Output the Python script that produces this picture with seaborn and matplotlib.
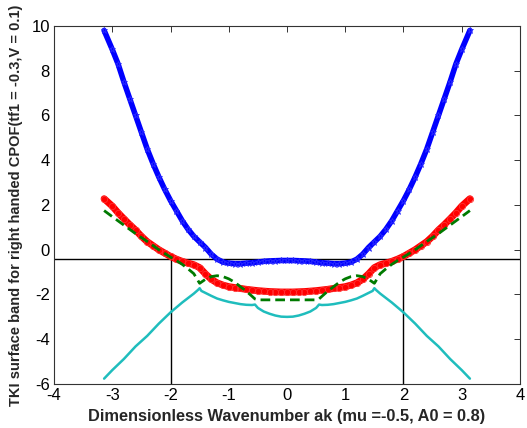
import numpy as np
import pandas as pd
import seaborn as sns
import matplotlib
matplotlib.use("Agg")
import matplotlib.pyplot as plt

# Wavenumber grid shared by the two marked bands
k_grid = [-3.14, -3.0, -2.9, -2.8, -2.7, -2.6, -2.5, -2.4, -2.3, -2.2, -2.1,
          -2.0, -1.9, -1.8, -1.7, -1.6, -1.5, -1.4, -1.3, -1.2, -1.1,
          -1.0, -0.9, -0.8, -0.7, -0.6, -0.5, -0.4, -0.3, -0.2, -0.1,
          0.0, 0.1, 0.2, 0.3, 0.4, 0.5, 0.6, 0.7, 0.8, 0.9,
          1.0, 1.1, 1.2, 1.3, 1.4, 1.5, 1.6, 1.7, 1.8, 1.9,
          2.0, 2.1, 2.2, 2.3, 2.4, 2.5, 2.6, 2.7, 2.8, 2.9, 3.0, 3.14]

upper_band = [9.8, 8.95, 8.3, 7.5, 6.75, 6.0, 5.25, 4.5, 3.85, 3.25, 2.7,
              2.2, 1.75, 1.3, 0.92, 0.6, 0.35, 0.1, -0.2, -0.42, -0.55,
              -0.6, -0.62, -0.62, -0.6, -0.58, -0.55, -0.52, -0.5, -0.49, -0.48,
              -0.48, -0.48, -0.49, -0.5, -0.52, -0.55, -0.58, -0.6, -0.62, -0.62,
              -0.6, -0.55, -0.42, -0.2, 0.1, 0.35, 0.6, 0.92, 1.3, 1.75,
              2.2, 2.7, 3.25, 3.85, 4.5, 5.25, 6.0, 6.75, 7.5, 8.3, 8.95, 9.8]

surface_band = [2.28, 1.95, 1.65, 1.38, 1.12, 0.88, 0.6, 0.36, 0.18, 0.0, -0.15,
                -0.3, -0.42, -0.52, -0.6, -0.67, -0.8, -1.08, -1.32, -1.48, -1.58,
                -1.65, -1.69, -1.73, -1.77, -1.8, -1.83, -1.85, -1.87, -1.88, -1.89,
                -1.89, -1.89, -1.88, -1.87, -1.85, -1.83, -1.8, -1.77, -1.73, -1.69,
                -1.65, -1.58, -1.48, -1.32, -1.08, -0.8, -0.67, -0.6, -0.52, -0.42,
                -0.3, -0.15, 0.0, 0.18, 0.36, 0.6, 0.88, 1.12, 1.38, 1.65, 1.95, 2.28]

# Dashed band
k_dashed = [-3.14, -3.0, -2.8, -2.6, -2.4, -2.2, -2.0, -1.9, -1.8, -1.7, -1.6,
            -1.5, -1.4, -1.3, -1.2, -1.1, -1.0, -0.9, -0.8, -0.7, -0.6, -0.55,
            -0.5, 0.0, 0.5,
            0.55, 0.6, 0.7, 0.8, 0.9, 1.0, 1.1, 1.2, 1.3, 1.4, 1.5,
            1.6, 1.7, 1.8, 1.9, 2.0, 2.2, 2.4, 2.6, 2.8, 3.0, 3.14]
dashed_band = [1.75, 1.48, 1.1, 0.72, 0.37, 0.0, -0.33, -0.48, -0.65, -0.85, -1.07,
               -1.5, -1.32, -1.2, -1.16, -1.2, -1.3, -1.45, -1.65, -1.85, -2.08, -2.2,
               -2.24, -2.24, -2.24,
               -2.2, -2.08, -1.85, -1.65, -1.45, -1.3, -1.2, -1.16, -1.2, -1.32, -1.5,
               -1.07, -0.85, -0.65, -0.48, -0.33, 0.0, 0.37, 0.72, 1.1, 1.48, 1.75]

# Lowest band
k_lower = [-3.14, -3.0, -2.8, -2.6, -2.4, -2.2, -2.0, -1.8, -1.6, -1.53, -1.5,
           -1.47, -1.4, -1.3, -1.2, -1.1, -1.0, -0.9, -0.8, -0.7, -0.6, -0.55,
           -0.5, -0.4, -0.3, -0.2, -0.1, 0.0, 0.1, 0.2, 0.3, 0.4, 0.5,
           0.55, 0.6, 0.7, 0.8, 0.9, 1.0, 1.1, 1.2, 1.3, 1.4, 1.47, 1.5,
           1.53, 1.6, 1.8, 2.0, 2.2, 2.4, 2.6, 2.8, 3.0, 3.14]
lower_band = [-5.76, -5.38, -4.88, -4.32, -3.85, -3.3, -2.8, -2.36, -1.96, -1.8, -1.72,
              -1.84, -1.93, -2.06, -2.18, -2.26, -2.33, -2.38, -2.43, -2.46, -2.47, -2.45,
              -2.6, -2.76, -2.86, -2.94, -2.99, -3.0, -2.99, -2.94, -2.86, -2.76, -2.6,
              -2.45, -2.47, -2.46, -2.43, -2.38, -2.33, -2.26, -2.18, -2.06, -1.93, -1.84, -1.72,
              -1.8, -1.96, -2.36, -2.8, -3.3, -3.85, -4.32, -4.88, -5.38, -5.76]

# Fermi level and the wavenumbers where it meets the surface band
fermi_level = -0.4
k_cross = [-2.0, 2.0]

x_ticks = [-4, -3, -2, -1, 0, 1, 2, 3, 4]
y_ticks = [-6, -4, -2, 0, 2, 4, 6, 8, 10]

sns.set_style("white")
plt.rcParams["font.family"] = ["Liberation Sans", "DejaVu Sans"]

fig = plt.figure(figsize=(5.27, 4.28), dpi=100)
ax = fig.add_axes([0.1025, 0.1028, 0.8842, 0.8365])

ax.axhline(fermi_level, color="black", lw=1.0, zorder=1)
ax.vlines(k_cross, ymin=y_ticks[0], ymax=fermi_level, color="black", lw=1.0, zorder=1)

sns.lineplot(x=k_lower, y=lower_band, ax=ax, color="#1fbdbd", lw=1.8,
             sort=False, estimator=None, zorder=2)
sns.lineplot(x=k_grid, y=upper_band, ax=ax, color="#0000ff", lw=4.0,
             marker="*", markersize=4.5, markeredgewidth=0.6, markeredgecolor="#2a2aff",
             sort=False, estimator=None, zorder=3)
sns.lineplot(x=k_grid, y=surface_band, ax=ax, color="#ff0000", lw=5.0,
             marker="o", markersize=4.5, markerfacecolor="none",
             markeredgecolor="#ff3030", markeredgewidth=0.6,
             sort=False, estimator=None, zorder=4)
sns.lineplot(x=k_dashed, y=dashed_band, ax=ax, color="#007a00", lw=2.0,
             dashes=False, sort=False, estimator=None, zorder=5)
ax.lines[-1].set_linestyle((0, (3.5, 1.8)))

ax.set_xlim(-4, 4)
ax.set_ylim(-6, 10)
ax.set_xticks(x_ticks)
ax.set_yticks(y_ticks)
ax.set_xticklabels([str(t) for t in x_ticks])
ax.set_yticklabels([str(t) for t in y_ticks])
ax.tick_params(direction="in", length=4, width=0.7, top=True, right=True,
               labelsize=12, pad=3, colors="#333333", labelcolor="black")
for s in ax.spines.values():
    s.set_visible(True)
    s.set_color("#333333")
    s.set_linewidth(0.8)

ax.set_xlabel("Dimensionless Wavenumber ak (mu =-0.5, A0 = 0.8)",
              fontsize=11.8, fontweight="bold", labelpad=4)
ax.set_ylabel("TKI surface band for right handed CPOF(tf1 = -0.3,V = 0.1)",
              fontsize=10.5, fontweight="bold", labelpad=6)

fig.savefig("out.png", dpi=100, facecolor="white")
